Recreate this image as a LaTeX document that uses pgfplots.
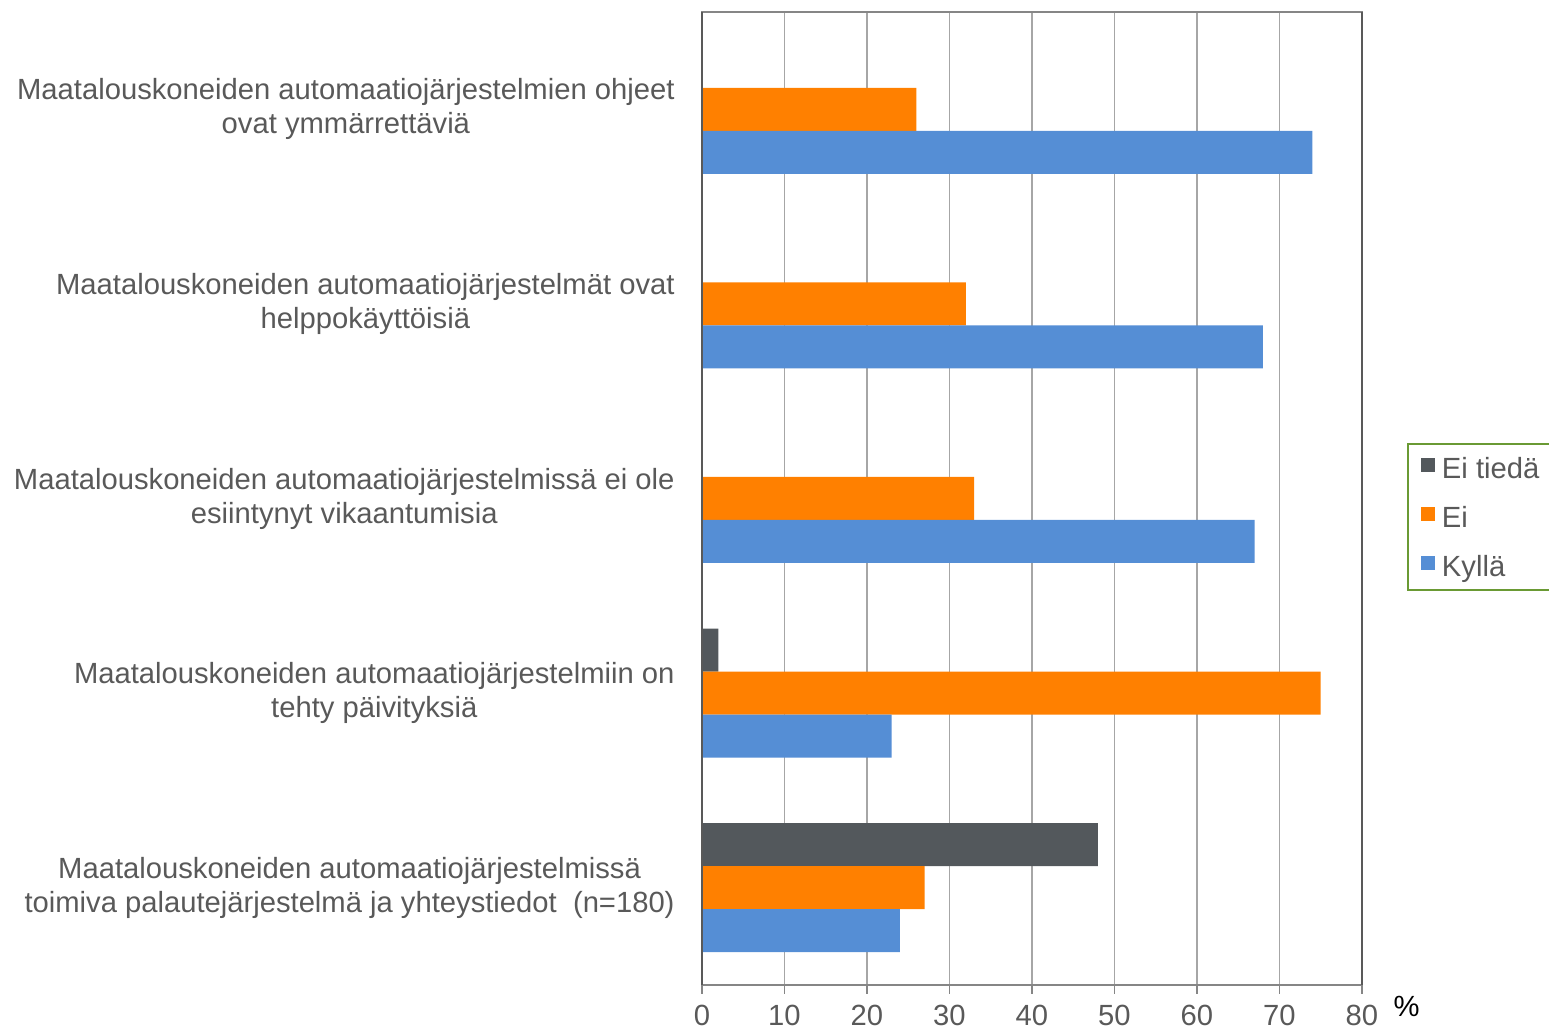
\documentclass[border=0pt]{standalone}
\usepackage{pgfplots}
\pgfplotsset{compat=1.18}
\usepackage{fontspec}
\setmainfont{Liberation Sans}
\definecolor{cblue}{HTML}{558ED5}
\definecolor{corange}{HTML}{FF8000}
\definecolor{cgray}{HTML}{53585C}
\definecolor{txt}{HTML}{595959}
\definecolor{gridc}{HTML}{A6A6A6}
\definecolor{axdark}{HTML}{595959}
\definecolor{axmid}{HTML}{868686}
\definecolor{leggreen}{HTML}{6A9A34}
\begin{document}
\begin{tikzpicture}[font=\fontsize{14.6pt}{17pt}\selectfont]
\useasboundingbox (-351pt,-23pt) rectangle (423.5pt,492.5pt);
\begin{axis}[
  at={(0pt,0pt)}, anchor=south west,
  scale only axis, width=330pt, height=486.5pt,
  xbar, bar width=21.5pt,
  xmin=0, xmax=80, ymin=-0.5, ymax=4.5,
  xtick={0,10,...,80},
  ytick={0,1,2,3,4},
  yticklabels={
    {Maatalouskoneiden automaatiojärjestelmissä\\toimiva palautejärjestelmä ja yhteystiedot~~(n=180)},
    {Maatalouskoneiden automaatiojärjestelmiin on\\tehty päivityksiä},
    {Maatalouskoneiden automaatiojärjestelmissä ei ole\\esiintynyt vikaantumisia},
    {Maatalouskoneiden automaatiojärjestelmät ovat\\helppokäyttöisiä},
    {Maatalouskoneiden automaatiojärjestelmien ohjeet\\ovat ymmärrettäviä}},
  minor ytick={-0.5,0.5,...,4.5},
  tick align=outside,
  major tick length=4.5pt, minor tick length=4.5pt,
  xtick pos=left, ytick pos=left,
  ytick style={draw=none},
  minor y tick style={axdark, line width=0.75pt},
  xtick style={axmid, line width=0.75pt},
  xmajorgrids,
  major x grid style={gridc, line width=0.75pt},
  axis line style={axmid, line width=0.75pt},
  every tick label/.append style={text=txt},
  yticklabel style={align=center, inner sep=0pt, xshift=-9pt},
  xticklabel style={yshift=-2.2pt},
  /pgf/number format/assume math mode=true,
  clip=false,
  legend style={draw=none, fill=none, inner sep=0pt, outer sep=0pt,
    at={(1.0894,0.5417)}, anchor=north west,
    nodes={inner sep=0pt, text height=10pt, text depth=3pt, text=txt},
    row sep=11.3pt,
    /tikz/every odd column/.append style={column sep=3.5pt}},
  legend cell align=left,
  legend image code/.code={\fill[#1] (0pt,-0.3pt) rectangle (7pt,6.7pt);},
]
\addplot[fill=cgray, draw=none, bar shift=21.5pt] coordinates {(48,0) (2,1) (0,2) (0,3) (0,4)};
\addplot[fill=corange, draw=none, bar shift=0pt] coordinates {(27,0) (75,1) (33,2) (32,3) (26,4)};
\addplot[fill=cblue, draw=none, bar shift=-21.5pt] coordinates {(24,0) (23,1) (67,2) (68,3) (74,4)};
\legend{Ei tiedä, Ei, Kyllä}
\draw[axdark, line width=0.75pt] (rel axis cs:0,0) -- (rel axis cs:0,1);
\draw[axdark, line width=0.75pt] (rel axis cs:1,0) -- (rel axis cs:1,1);
\draw[leggreen, line width=1pt] (rel axis cs:1.0697,0.406) rectangle (rel axis cs:1.4,0.556);
\node[black] at (rel axis cs:1.0677,-0.0225) {\%};
\end{axis}
\end{tikzpicture}
\end{document}
